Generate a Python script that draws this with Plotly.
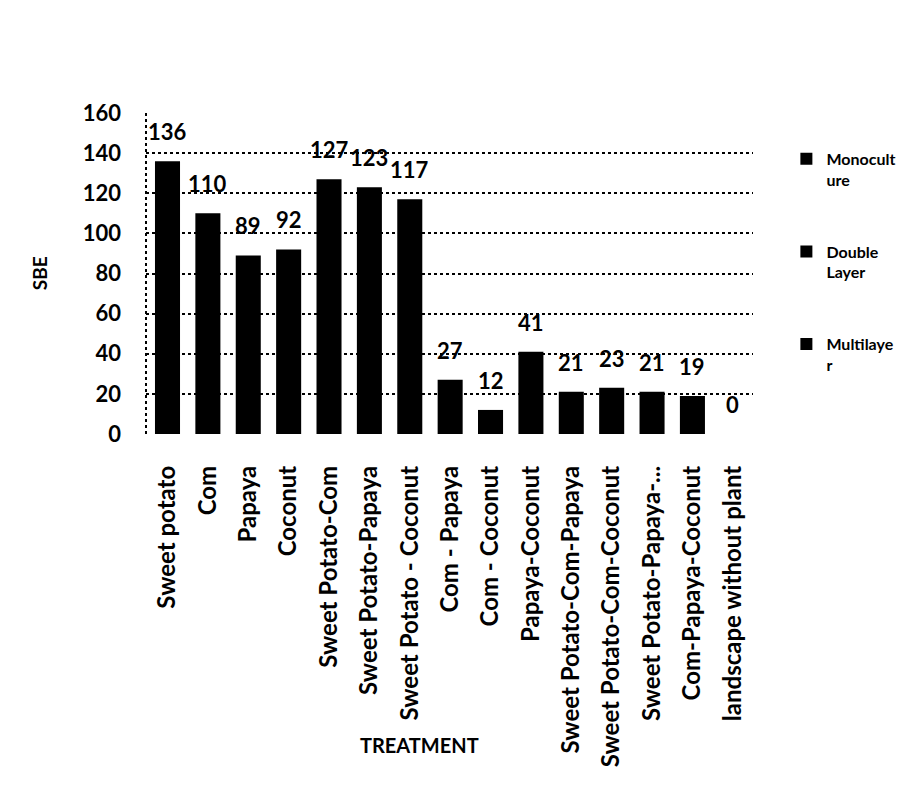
import plotly.graph_objects as go

categories = ["Sweet potato", "Com", "Papaya", "Coconut",
              "Sweet Potato-Com", "Sweet Potato-Papaya", "Sweet Potato - Coconut",
              "Com - Papaya", "Com - Coconut", "Papaya-Coconut",
              "Sweet Potato-Com-Papaya", "Sweet Potato-Com-Coconut", "Sweet Potato-Papaya-...",
              "Com-Papaya-Coconut", "landscape without plant"]
sbe_values = [136, 110, 89, 92, 127, 123, 117, 27, 12, 41, 21, 23, 21, 19, 0]

mono_idx = [0, 1, 2, 3]
double_idx = [4, 5, 6, 7, 8, 9]
multi_idx = [10, 11, 12, 13, 14]

series_names = ["Monocult<br>ure", "Double<br>Layer", "Multilaye<br>r"]
series_idx = [mono_idx, double_idx, multi_idx]

y_ticks = [0, 20, 40, 60, 80, 100, 120, 140, 160]

FONT = "Lato"
fig = go.Figure()
for name, idx in zip(series_names, series_idx):
    fig.add_trace(go.Bar(
        x=[categories[i] for i in idx],
        y=[sbe_values[i] for i in idx],
        name=name,
        legendgroup=name,
        marker=dict(color="black", line=dict(width=0)),
        hovertemplate="%{x}: %{y}<extra></extra>",
    ))

# value labels above bars
annotations = []
for cat, val in zip(categories, sbe_values):
    annotations.append(dict(
        x=cat, y=val, xref="x", yref="y", text=f"<b>{val}</b>",
        showarrow=False, yanchor="bottom", yshift=14,
        font=dict(family=FONT, size=22, color="black"),
    ))
annotations.append(dict(
    x=0.45, y=-0.97, xref="paper", yref="paper", text="<b>TREATMENT</b>",
    showarrow=False, xanchor="center", yanchor="middle",
    font=dict(family=FONT, size=20, color="black"),
))
annotations.append(dict(
    x=-0.175, y=0.5, xref="paper", yref="paper", text="<b>SBE</b>",
    showarrow=False, xanchor="center", yanchor="middle", textangle=-90,
    font=dict(family=FONT, size=19, color="black"),
))

fig.update_layout(
    width=919, height=806,
    margin=dict(l=138, r=174, t=105, b=380, autoexpand=False),
    paper_bgcolor="white", plot_bgcolor="white",
    barmode="overlay", bargap=0.38,
    font=dict(family=FONT, color="black"),
    showlegend=True,
    legend=dict(x=1.055, y=0.91, xanchor="left", yanchor="top",
                font=dict(family=FONT, size=16, color="black", weight="bold"),
                tracegroupgap=48, itemwidth=30, valign="top",
                bgcolor="rgba(0,0,0,0)"),
    annotations=annotations,
    shapes=[dict(type="line", xref="paper", yref="paper", x0=0, x1=0, y0=0, y1=1,
                 line=dict(color="black", width=2, dash="dot"))],
)
fig.update_xaxes(
    categoryorder="array", categoryarray=categories,
    tickangle=-90, ticklabelstandoff=26, automargin=False,
    tickfont=dict(family=FONT, size=24, color="black", weight="bold"),
    showgrid=False, showline=False, zeroline=False,
)
fig.update_yaxes(
    range=[0, 160], tickvals=y_ticks, ticklabelstandoff=24, automargin=False,
    tickfont=dict(family=FONT, size=22, color="black", weight="bold"),
    showgrid=True, gridcolor="black", gridwidth=2, griddash="dot",
    zeroline=False, showline=False,
)
fig.write_html("out.html")
